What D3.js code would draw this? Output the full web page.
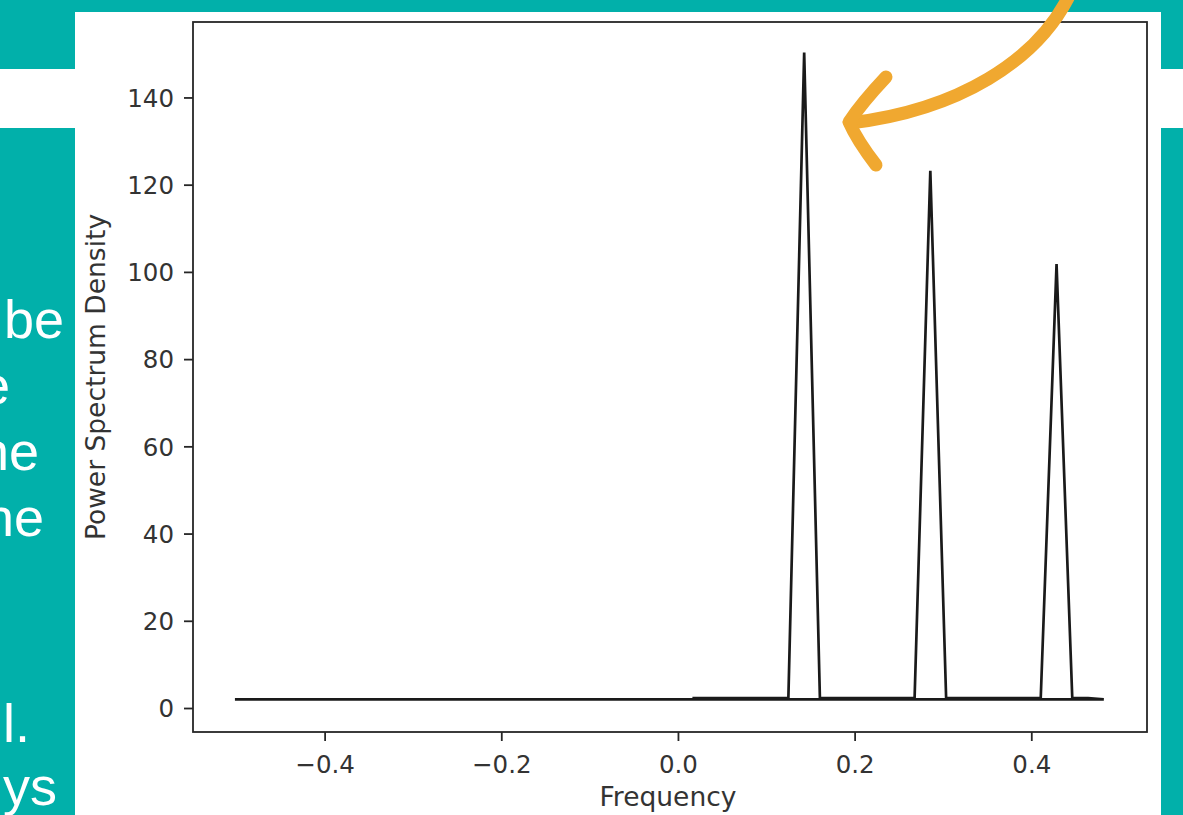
<!DOCTYPE html>
<html>
<head>
<meta charset="utf-8">
<script src="https://cdn.jsdelivr.net/npm/d3@7"></script>
<style>
  html, body { margin: 0; padding: 0; background: #01b0aa; }
  svg { display: block; }
</style>
</head>
<body>
<svg id="chart" width="1183" height="815"></svg>
<script>
// ---- data ----
const frequencies = [0.0179, 0.0357, 0.0536, 0.0714, 0.0893, 0.1071, 0.1250, 0.1429, 0.1607,
  0.1786, 0.1964, 0.2143, 0.2321, 0.2500, 0.2679, 0.2857, 0.3036, 0.3214, 0.3393,
  0.3571, 0.3750, 0.3929, 0.4107, 0.4286, 0.4464, 0.4643, 0.4821, -0.5];
const psdValues = [2.3, 2.3, 2.3, 2.3, 2.3, 2.3, 2.3, 150.3, 2.3,
  2.3, 2.3, 2.3, 2.3, 2.3, 2.3, 123.2, 2.3, 2.3, 2.3,
  2.3, 2.3, 2.3, 2.3, 101.8, 2.3, 2.3, 2.0, 2.0];
const xTicks = [-0.4, -0.2, 0.0, 0.2, 0.4];
const yTicks = [0, 20, 40, 60, 80, 100, 120, 140];
const xLabel = "Frequency";
const yLabel = "Power Spectrum Density";
const sideTextLines = ["be", "e", "ne", "ne", "l.", "ys"];

const teal = "#01b0aa";
const svg = d3.select("#chart");

// ---- slide background ----
svg.append("rect").attr("x", 0).attr("y", 0).attr("width", 1183).attr("height", 815).attr("fill", teal);

// side text fragments (slide text partially hidden by the chart image)
const sideX = [64, 10, 39, 44, 30, 57];
const sideY = [338, 404, 470, 536, 742, 805];
svg.append("g").selectAll("text").data(sideTextLines).join("text")
  .attr("x", (d, i) => sideX[i]).attr("y", (d, i) => sideY[i])
  .attr("text-anchor", "end")
  .attr("fill", "#ffffff")
  .style("font-family", "'Liberation Sans', Arial, sans-serif")
  .style("font-size", "54px")
  .text(d => d);

// white title stripe and chart image area
svg.append("rect").attr("x", 0).attr("y", 69).attr("width", 1183).attr("height", 59).attr("fill", "#ffffff");
svg.append("rect").attr("x", 75).attr("y", 12).attr("width", 1086).attr("height", 803).attr("fill", "#ffffff");

// ---- chart ----
const plotLeft = 193, plotRight = 1147, plotTop = 22, plotBottom = 732;
const x = d3.scaleLinear().domain([-0.549, 0.531]).range([plotLeft, plotRight]);
const y = d3.scaleLinear().domain([-5.5, 157.3]).range([plotBottom, plotTop]);

const ink = "#262626";
const fontFam = "'DejaVu Sans', sans-serif";

const fmtX = v => (v < 0 ? "\u2212" : "") + Math.abs(v).toFixed(1);

const xAxis = svg.append("g").attr("transform", `translate(0,${plotBottom})`)
  .call(d3.axisBottom(x).tickValues(xTicks).tickFormat(fmtX).tickSize(9).tickPadding(9));
const yAxis = svg.append("g").attr("transform", `translate(${plotLeft},0)`)
  .call(d3.axisLeft(y).tickValues(yTicks).tickSize(9).tickPadding(10));

[xAxis, yAxis].forEach(g => {
  g.select(".domain").remove();
  g.selectAll(".tick line").attr("stroke", ink).attr("stroke-width", 1.8);
  g.selectAll(".tick text").attr("fill", "#333").style("font-family", fontFam).style("font-size", "24.5px");
});
yAxis.selectAll(".tick text").attr("dy", "0.36em");
xAxis.selectAll(".tick text").attr("dy", "0.95em");

// line
const line = d3.line().x((d, i) => x(frequencies[i])).y(d => y(d));
svg.append("path").datum(psdValues)
  .attr("d", line)
  .attr("fill", "none")
  .attr("stroke", "#1a1a1a")
  .attr("stroke-width", 2.7)
  .attr("stroke-linejoin", "miter")
  .attr("stroke-linecap", "square");

// spines
svg.append("rect").attr("x", plotLeft).attr("y", plotTop).attr("width", plotRight - plotLeft).attr("height", plotBottom - plotTop)
  .attr("fill", "none").attr("stroke", ink).attr("stroke-width", 1.8);

// axis labels
svg.append("text").attr("x", (plotLeft + plotRight) / 2 - 2).attr("y", 806)
  .attr("text-anchor", "middle").attr("fill", "#333")
  .style("font-family", fontFam).style("font-size", "26.5px").text(xLabel);
svg.append("text").attr("transform", `translate(105,${(plotTop + plotBottom) / 2}) rotate(-90)`)
  .attr("text-anchor", "middle").attr("fill", "#333")
  .style("font-family", fontFam).style("font-size", "26.5px").text(yLabel);

// ---- orange annotation arrow ----
const orange = "#f0a830";
const arrow = svg.append("g").attr("fill", "none").attr("stroke", orange)
  .attr("stroke-width", 13).attr("stroke-linecap", "round").attr("stroke-linejoin", "round");
arrow.append("path").attr("d", "M1068,-2 C1036,60 960,110 850,123");
arrow.append("path").attr("d", "M886,77 C870,94 857,110 849,122 C856,138 866,152 876,165");
</script>
</body>
</html>
